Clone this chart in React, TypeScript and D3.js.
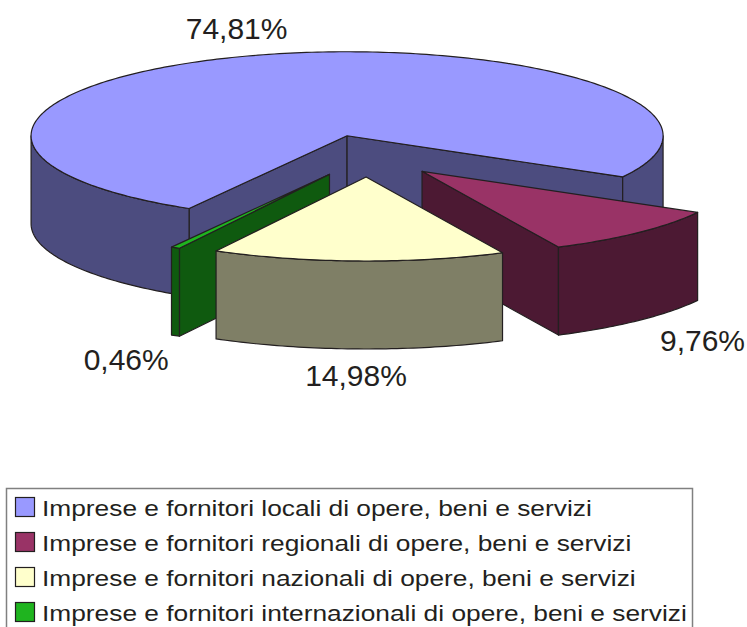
import React from 'react';
import * as d3 from 'd3';

const categories = [
  'Imprese e fornitori locali di opere, beni e servizi',
  'Imprese e fornitori regionali di opere, beni e servizi',
  'Imprese e fornitori nazionali di opere, beni e servizi',
  'Imprese e fornitori internazionali di opere, beni e servizi',
];
const values = [74.81, 9.76, 14.98, 0.46];
const topColors = ['#9999ff', '#993366', '#ffffcc', '#1fb41f'];
const sideColors = ['#4c4c7f', '#4c1933', '#7f7f66', '#0f5a0f'];

const W = 747, H = 627;
const cx = 368, cy = 156, rx = 316, ry = 84, depth = 88;
const explode = 0.25;
const startDeg = 210;
const ink = '#231f20';
const labelSize = 30;

const it = d3.formatLocale({ decimal: ',', thousands: '.', grouping: [3], currency: ['', '€'] });
const pct = (v: number) => it.format('.2f')(v) + '%';

type P = [number, number];

export default function App() {
  const start = (startDeg * Math.PI) / 180;
  const pie = d3.pie<number>().sort(null).startAngle(start).endAngle(start + 2 * Math.PI);
  const arcs = pie(values);
  const line = d3.line<P>();

  const slices = arcs.map((a, i) => {
    const m = (a.startAngle + a.endAngle) / 2;
    const ox = cx + explode * rx * Math.sin(m);
    const oy = cy - explode * ry * Math.cos(m);
    const pt = (t: number, dz = 0): P => [ox + rx * Math.sin(t), oy - ry * Math.cos(t) + dz];
    const arcPts = (a0: number, a1: number, dz = 0): P[] => {
      const n = Math.max(2, Math.ceil((a1 - a0) / (Math.PI / 180)));
      return d3.range(n + 1).map(k => pt(a0 + ((a1 - a0) * k) / n, dz));
    };
    const apex: P = [ox, oy];
    const apexB: P = [ox, oy + depth];

    const top = line([apex, ...arcPts(a.startAngle, a.endAngle)]) + 'Z';

    // only the front half of the rim is visible
    const sides: string[] = [];
    for (let k = -1; k <= 2; k++) {
      const lo = Math.max(a.startAngle, Math.PI / 2 + 2 * Math.PI * k);
      const hi = Math.min(a.endAngle, (3 * Math.PI) / 2 + 2 * Math.PI * k);
      if (hi > lo) sides.push(line([...arcPts(lo, hi), ...arcPts(lo, hi, depth).reverse()]) + 'Z');
    }

    const faces: string[] = [];
    if (-Math.cos(a.startAngle - Math.PI / 2) > 0)
      faces.push(line([apex, pt(a.startAngle), pt(a.startAngle, depth), apexB]) + 'Z');
    if (-Math.cos(a.endAngle + Math.PI / 2) > 0)
      faces.push(line([apex, pt(a.endAngle), pt(a.endAngle, depth), apexB]) + 'Z');

    const label = pct(a.data);
    const hw = label.length * labelSize * 0.27;
    const L = 1.32;
    const lx = Math.max(hw + 4, Math.min(W - hw - 4, ox + rx * L * Math.sin(m)));
    const ly = oy - ry * L * Math.cos(m) + (Math.cos(m) < 0 ? depth : 0);

    return { i, oy, top, sides, faces, lx, ly, label };
  });

  const order = [...slices].sort((a, b) => a.oy - b.oy);

  return (
    <svg width={W} height={H} style={{ position: 'absolute', left: 0, top: 0 }}
      fontFamily="'Liberation Sans', Arial, sans-serif">
      <rect width={W} height={H} fill="#fff" />
      <g stroke={ink} strokeWidth={1.2} strokeLinejoin="round">
        {order.map(s => (
          <g key={s.i}>
            {s.faces.map((d, j) => <path key={'f' + j} d={d} fill={sideColors[s.i]} />)}
            {s.sides.map((d, j) => <path key={'s' + j} d={d} fill={sideColors[s.i]} />)}
            <path d={s.top} fill={topColors[s.i]} />
          </g>
        ))}
      </g>
      {slices.map(s => (
        <text key={s.i} x={s.lx} y={s.ly} textAnchor="middle" dominantBaseline="central"
          fontSize={labelSize} fill={ink}>{s.label}</text>
      ))}
      <rect x={6.5} y={488.5} width={686} height={170} fill="none" stroke="#808080" strokeWidth={1.5} />
      {categories.map((c, i) => {
        const yc = 507 + i * 35;
        return (
          <g key={c}>
            <rect x={15.5} y={yc - 9.5} width={19} height={19} fill={topColors[i]} stroke={ink} strokeWidth={1.2} />
            <text transform={`translate(42,${yc + 8.5}) scale(1.17,1)`} fontSize={22.5} fill={ink}>{c}</text>
          </g>
        );
      })}
    </svg>
  );
}
